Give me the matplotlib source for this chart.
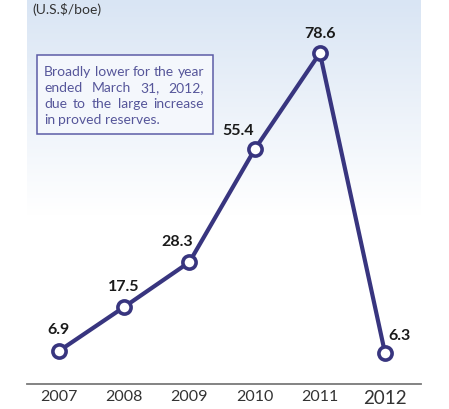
import numpy as np
import matplotlib
matplotlib.use("Agg")
import matplotlib.pyplot as plt
from matplotlib.colors import to_rgb

years = [2007, 2008, 2009, 2010, 2011, 2012]
values = [6.9, 17.5, 28.3, 55.4, 78.6, 6.3]
tick_labels = ["2007", "2008", "2009", "2010", "2011", "2012"]
unit_label = "(U.S.$/boe)"
note_lines = [
    ["Broadly", "lower", "for", "the", "year"],
    ["ended", "March", "31,", "2012,"],
    ["due", "to", "the", "large", "increase"],
    ["in", "proved", "reserves."],
]

# label offsets in pixels (dx, dy) relative to each point
label_offsets = [(0, 21), (0, 20), (-12, 20), (-17, 18), (0, 19), (14, 17)]

plt.rcParams["font.family"] = ["Lato", "DejaVu Sans"]

W, H = 449, 409
fig = plt.figure(figsize=(W / 100, H / 100), dpi=100)
ax = fig.add_axes([27 / W, (H - 384) / H, 394 / W, 384 / H])
ax.set_xlim(2006.51, 2012.55)
ax.set_ylim(-1.04, 91.36)
for s in ax.spines.values():
    s.set_visible(False)
ax.spines["bottom"].set_visible(True)
ax.spines["bottom"].set_color("#7a7a7a")
ax.spines["bottom"].set_linewidth(1.3)
ax.tick_params(axis="y", left=False, labelleft=False)
ax.tick_params(axis="x", length=0, pad=4)

# background gradient: light blue at top fading to white
top = np.array(to_rgb("#d9e5f4"))
n = 256
t = np.linspace(0, 1, n)[:, None]
rgb = top[None, :] * (1 - t) + np.ones(3)[None, :] * t
img = np.ones((n, 2, 4))
img[:, :, :3] = rgb[:, None, :]
img[:, :, 3] = 1.0
y_fade = 91.36 - 215 / 4.156
ax.imshow(img, extent=(2006.51, 2012.55, y_fade, 91.36), aspect="auto",
          origin="upper", zorder=0)

navy = "#38357f"
ax.plot(years, values, color=navy, lw=3.0, zorder=3, solid_capstyle="round")
ax.plot(years, values, linestyle="none", marker="o", markersize=9.5,
        markerfacecolor="white", markeredgecolor=navy, markeredgewidth=2.6,
        zorder=4)

for x, v, (dx, dy) in zip(years, values, label_offsets):
    ax.annotate(f"{v:.1f}", (x, v), xytext=(dx, dy), textcoords="offset pixels",
                ha="center", va="center", fontsize=11.5, fontweight="bold",
                color="#1a1a1a", zorder=5)

ax.set_xticks(years)
ax.set_xticklabels(tick_labels, color="#333333", fontsize=11.5)
ax.get_xticklabels()[-1].set_fontsize(13.5)

fig.text(32 / W, 1 - 10 / H, unit_label, ha="left", va="center",
         fontsize=10, color="#333333")

# note box
box_l, box_t, box_r, box_b = 37, 55, 213, 134
fig.patches.append(plt.Rectangle((box_l / W, 1 - box_b / H),
                                 (box_r - box_l) / W, (box_b - box_t) / H,
                                 transform=fig.transFigure, facecolor="#f4f7fc",
                                 edgecolor="#5c5ca6", linewidth=1.1, zorder=6))

note_color = "#56569a"
text_l, text_r = 44, 204
line_ys = [72, 88, 104, 120]
fig.canvas.draw()
renderer = fig.canvas.get_renderer()
for words, ly in zip(note_lines, line_ys):
    objs = [fig.text(0, 1 - ly / H, w, fontsize=10, color=note_color,
                     ha="left", va="center", zorder=7) for w in words]
    widths = [o.get_window_extent(renderer).width for o in objs]
    space = objs[0].get_window_extent(renderer).height * 0.25
    last = words is note_lines[-1]
    if last:
        gap = space
    else:
        gap = (text_r - text_l - sum(widths)) / (len(words) - 1)
    x = text_l
    for o, w in zip(objs, widths):
        o.set_x(x / W)
        x += w + gap

fig.savefig("out.png", dpi=100)
